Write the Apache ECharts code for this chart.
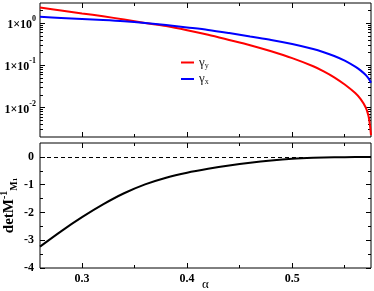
<!DOCTYPE html>
<html>
<head>
<meta charset="utf-8">
<script src="https://cdn.jsdelivr.net/npm/echarts@6/dist/echarts.min.js"></script>
<style>
  html, body { margin: 0; padding: 0; background: #fff; }
  #chart { width: 374px; height: 291px; }
</style>
</head>
<body>
<div id="chart"></div>
<script>
// alpha values (x)
var alpha = [0.26, 0.28, 0.30, 0.32, 0.34, 0.36, 0.38, 0.40, 0.42, 0.44, 0.46, 0.48, 0.50,
             0.52, 0.53, 0.54, 0.55, 0.56, 0.565, 0.57, 0.5725, 0.574, 0.575];
var gammaY = [2.34, 2.0, 1.70, 1.45, 1.22, 1.01, 0.85, 0.68, 0.53, 0.40, 0.30, 0.215, 0.148,
              0.095, 0.072, 0.052, 0.035, 0.022, 0.016, 0.010, 0.0065, 0.0038, 0.0022];
var gammaX = [1.41, 1.33, 1.26, 1.19, 1.11, 1.01, 0.90, 0.79, 0.69, 0.58, 0.48, 0.40, 0.32,
              0.243, 0.204, 0.166, 0.129, 0.093, 0.076, 0.059, 0.0495, 0.043, 0.0385];

var alphaDet = [0.26, 0.28, 0.30, 0.32, 0.34, 0.36, 0.38, 0.40, 0.42, 0.44, 0.46,
                0.48, 0.50, 0.52, 0.54, 0.56, 0.575];
var detM = [-3.23, -2.68, -2.17, -1.71, -1.31, -0.99, -0.75, -0.57, -0.43, -0.31, -0.21,
            -0.13, -0.07, -0.035, -0.015, -0.005, -0.001];

// ticks
var xMajor = [0.3, 0.4, 0.5];
var xMinor = [0.35, 0.45, 0.55];
var yLogMajor = [0.01, 0.1, 1];
var yLogMinor = [0.003, 0.004, 0.005, 0.006, 0.007, 0.008, 0.009,
                 0.02, 0.03, 0.04, 0.05, 0.06, 0.07, 0.08, 0.09,
                 0.2, 0.3, 0.4, 0.5, 0.6, 0.7, 0.8, 0.9, 2];
var yDetMajor = [-4, -3, -2, -1, 0];
var yDetMinor = [-3.5, -2.5, -1.5, -0.5];

var serif = 'Liberation Serif';
var xMin = 0.26, xMax = 0.575;

function zip(xs, ys) {
    return xs.map(function (x, i) { return [x, ys[i]]; });
}

// one axis drawing only a set of inward ticks (and optionally labels)
function tickAxis(grid, pos, type, min, max, ticks, len, labels) {
    var ax = {
        gridIndex: grid, position: pos, type: type, min: min, max: max,
        axisLine: { show: false, onZero: false },
        splitLine: { show: false },
        axisTick: { inside: true, length: len, customValues: ticks, lineStyle: { color: '#000', width: 1 } },
        axisLabel: { show: false }
    };
    if (labels) {
        ax.axisLabel = labels;
    }
    return ax;
}

var myChart = echarts.init(document.getElementById('chart'));

var xAxes = [
    tickAxis(0, 'bottom', 'value', xMin, xMax, xMajor, 5),
    tickAxis(0, 'top', 'value', xMin, xMax, xMajor, 5),
    tickAxis(0, 'bottom', 'value', xMin, xMax, xMinor, 3),
    tickAxis(0, 'top', 'value', xMin, xMax, xMinor, 3),
    tickAxis(1, 'bottom', 'value', xMin, xMax, xMajor, 5, {
        show: true, customValues: xMajor, margin: 5,
        fontFamily: serif, fontWeight: 'bold', fontSize: 12, color: '#000',
        formatter: function (v) { return v.toFixed(1); }
    }),
    tickAxis(1, 'top', 'value', xMin, xMax, xMajor, 5),
    tickAxis(1, 'bottom', 'value', xMin, xMax, xMinor, 3),
    tickAxis(1, 'top', 'value', xMin, xMax, xMinor, 3)
];
xAxes[4].name = 'α';
xAxes[4].nameLocation = 'middle';
xAxes[4].nameGap = 10;
xAxes[4].nameMoveOverlap = false;
xAxes[4].nameTextStyle = { fontFamily: serif, fontSize: 13, color: '#000' };

var yAxes = [
    tickAxis(0, 'left', 'log', 0.002, 3, yLogMajor, 5, {
        show: true, customValues: yLogMajor, margin: 4, color: '#000',
        fontFamily: serif, fontWeight: 'bold', fontSize: 12,
        formatter: function (v) {
            var e = Math.round(Math.log10(v));
            return '{b|1×10}{sup|' + e + '}';
        },
        rich: {
            b: { fontFamily: serif, fontWeight: 'bold', fontSize: 12, lineHeight: 16, verticalAlign: 'bottom' },
            sup: { fontFamily: serif, fontWeight: 'bold', fontSize: 8, lineHeight: 8, verticalAlign: 'top' }
        }
    }),
    tickAxis(0, 'right', 'log', 0.002, 3, yLogMajor, 5),
    tickAxis(0, 'left', 'log', 0.002, 3, yLogMinor, 3),
    tickAxis(0, 'right', 'log', 0.002, 3, yLogMinor, 3),
    tickAxis(1, 'left', 'value', -4, 0.5, yDetMajor, 5, {
        show: true, customValues: yDetMajor, margin: 6, color: '#000',
        fontFamily: serif, fontWeight: 'bold', fontSize: 12
    }),
    tickAxis(1, 'right', 'value', -4, 0.5, yDetMajor, 5),
    tickAxis(1, 'left', 'value', -4, 0.5, yDetMinor, 3),
    tickAxis(1, 'right', 'value', -4, 0.5, yDetMinor, 3)
];
yAxes[4].name = '{b|detM}{sup|-1}{sub|M}{sub2|1}';
yAxes[4].nameLocation = 'middle';
yAxes[4].nameRotate = 90;
yAxes[4].nameGap = 21;
yAxes[4].nameMoveOverlap = false;
yAxes[4].nameTextStyle = {
    color: '#000',
    rich: {
        b: { fontFamily: serif, fontWeight: 'bold', fontSize: 15, lineHeight: 20, verticalAlign: 'middle' },
        sup: { fontFamily: serif, fontWeight: 'bold', fontSize: 10, lineHeight: 10, verticalAlign: 'top' },
        sub: { fontFamily: serif, fontWeight: 'bold', fontSize: 10, lineHeight: 10, verticalAlign: 'bottom' },
        sub2: { fontFamily: serif, fontWeight: 'bold', fontSize: 7, lineHeight: 5, verticalAlign: 'bottom' }
    }
};

var option = {
    animation: false,
    backgroundColor: '#fff',
    grid: [
        { left: 40, right: 3, top: 3, height: 134, outerBoundsMode: 'none', containLabel: false,
          show: true, borderColor: '#000', borderWidth: 1, backgroundColor: 'transparent' },
        { left: 40, right: 3, top: 143, height: 125, outerBoundsMode: 'none', containLabel: false,
          show: true, borderColor: '#000', borderWidth: 1, backgroundColor: 'transparent' }
    ],
    legend: {
        orient: 'vertical',
        left: 176, top: 51,
        itemWidth: 13, itemHeight: 2, itemGap: 3,
        icon: 'rect',
        data: ['γy', 'γx'],
        formatter: function (name) {
            return '{g|' + name.charAt(0) + '}{sub|' + name.slice(1) + '}';
        },
        textStyle: {
            color: '#222',
            rich: {
                g: { fontFamily: serif, fontSize: 13, lineHeight: 14, verticalAlign: 'middle', color: '#222' },
                sub: { fontFamily: serif, fontSize: 8, lineHeight: 6, verticalAlign: 'bottom', color: '#222' }
            }
        }
    },
    xAxis: xAxes,
    yAxis: yAxes,
    series: [
        {
            name: 'γy', type: 'line', xAxisIndex: 0, yAxisIndex: 0,
            data: zip(alpha, gammaY), showSymbol: false, smooth: 0.3,
            color: '#ff0000', lineStyle: { color: '#ff0000', width: 2 }
        },
        {
            name: 'γx', type: 'line', xAxisIndex: 0, yAxisIndex: 0,
            data: zip(alpha, gammaX), showSymbol: false, smooth: 0.3,
            color: '#0000ff', lineStyle: { color: '#0000ff', width: 2 }
        },
        {
            name: 'detM', type: 'line', xAxisIndex: 4, yAxisIndex: 4,
            data: zip(alphaDet, detM), showSymbol: false, smooth: 0.3,
            lineStyle: { color: '#000', width: 2 },
            markLine: {
                silent: true, symbol: ['none', 'none'],
                label: { show: false },
                lineStyle: { color: '#000', width: 1, type: [4, 3] },
                data: [{ yAxis: 0 }]
            }
        }
    ]
};
myChart.setOption(option);
</script>
</body>
</html>
